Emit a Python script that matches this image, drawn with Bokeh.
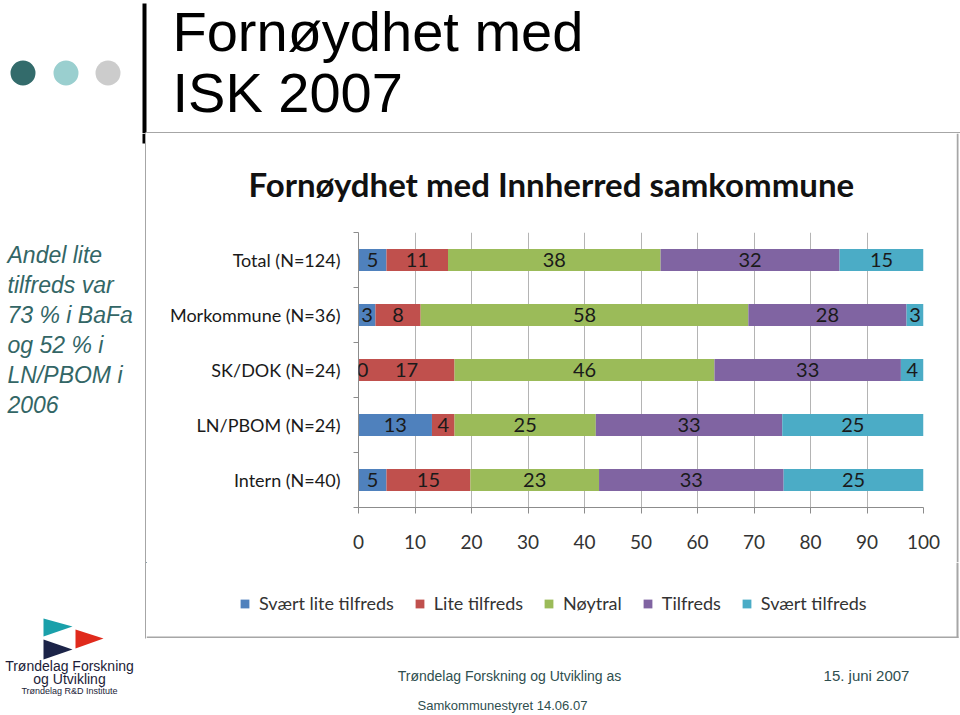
import numpy as np
from bokeh.plotting import figure
from bokeh.layouts import column, row
from bokeh.models import (ColumnDataSource, Range1d, FixedTicker, LabelSet,
                          Legend, LegendItem)
from bokeh.core.properties import value
from bokeh.embed import file_html
from bokeh.resources import INLINE

# ---------------- data ----------------
categories = ["Total (N=124)", "Morkommune (N=36)", "SK/DOK (N=24)",
              "LN/PBOM (N=24)", "Intern (N=40)"]
series_names = ["Svært lite tilfreds", "Lite tilfreds", "Nøytral",
                "Tilfreds", "Svært tilfreds"]
svaert_lite = [5, 3, 0, 13, 5]
lite = [11, 8, 17, 4, 15]
noytral = [38, 58, 46, 25, 23]
tilfreds = [32, 28, 33, 33, 33]
svaert = [15, 3, 4, 25, 25]
x_ticks = [0, 10, 20, 30, 40, 50, 60, 70, 80, 90, 100]
colors = ["#4F81BD", "#C0504D", "#9BBB59", "#8064A2", "#4BACC6"]

chart_title = "Fornøydhet med Innherred samkommune"
slide_title = ["Fornøydhet med", "ISK 2007"]
side_text = ["Andel lite", "tilfreds var", "73 % i BaFa", "og 52 % i", "LN/PBOM i", "2006"]
logo_text = ["Trøndelag Forskning", "og Utvikling", "Trøndelag R&D Institute"]
footer_text = ["Trøndelag Forskning og Utvikling as", "15. juni 2007",
               "Samkommunestyret 14.06.07"]

FONT = "Lato"
NARROW = "Liberation Sans Narrow, Liberation Sans"
BORDER = "#a6a6a6"


def blank(w, h, x0, x1, y0, y1):
    f = figure(width=w, height=h, output_backend="svg", toolbar_location=None,
               x_range=Range1d(x0, x1), y_range=Range1d(y1, y0),
               x_axis_type=None, y_axis_type=None, min_border=0,
               frame_align=False)
    f.outline_line_color = None
    f.grid.visible = False
    f.background_fill_color = "white"
    f.border_fill_color = "white"
    return f


# ---------------- top slide header (page x 0..960, y 0..133) ----------------
top = blank(960, 133, 0, 960, 0, 133)
top.circle(x=[22.5, 65.5, 107.5], y=[72.5, 72.5, 72.5], radius=12.5,
           fill_color=["#336b6b", "#9acfcf", "#cccccc"], line_color=None)
top.quad(left=[142], right=[146], top=[3], bottom=[133], fill_color="black",
         line_color=None)
top.quad(left=[145], right=[960], top=[131.5], bottom=[133], fill_color=BORDER,
         line_color=None)
top.text(x=[172, 172], y=[31, 92], text=slide_title, text_font=value("Liberation Sans"),
         text_font_size="56px", text_color="black", text_baseline="middle",
         text_align="left")

# ---------------- left column (page x 0..146, y 133..715) ----------------
left = blank(146, 582, 0, 146, 133, 715)
left.quad(left=[142], right=[146], top=[133], bottom=[143], fill_color="black",
          line_color=None)
left.quad(left=[144.5], right=[146], top=[133], bottom=[638], fill_color=BORDER,
          line_color=None)
left.text(x=[7] * len(side_text), y=[254 + 30 * i for i in range(len(side_text))],
          text=side_text, text_font=value("Liberation Sans"), text_font_style="italic",
          text_font_size="23px", text_color="#336666", text_baseline="middle",
          text_align="left")
left.patches(xs=[[43, 72, 43], [75, 103, 75], [43, 72, 43]],
             ys=[[618, 626, 636], [629, 638, 648], [639, 649, 659]],
             fill_color=["#1aa0aa", "#e02a1c", "#1c2448"], line_color=None)
left.text(x=[69, 69], y=[665, 678], text=logo_text[:2], text_font=value(NARROW),
          text_font_size="14px", text_color="#1c1c38", text_baseline="middle",
          text_align="center")
left.text(x=[69], y=[690], text=logo_text[2:], text_font=value(NARROW),
          text_font_size="9px", text_color="#1c1c38", text_baseline="middle",
          text_align="center")

# ---------------- chart (page x 146..956, y 133..562) ----------------
series = [svaert_lite, lite, noytral, tilfreds, svaert]
keys = ["s0", "s1", "s2", "s3", "s4"]
raw = np.array(series, dtype=float)
totals = raw.sum(axis=0)
share = raw / totals * 100.0                  # 100 % stacked bar

ypos = [i + 0.5 for i in range(len(categories))]
data = {"y": ypos}
for k, r in zip(keys, share):
    data[k] = list(r)
source = ColumnDataSource(data)

p = figure(width=810, height=429, output_backend="svg", toolbar_location=None,
           x_range=Range1d(0, 100), y_range=Range1d(len(categories), 0),
           min_border_left=212, min_border_right=33,
           min_border_top=99, min_border_bottom=55, frame_align=False)
p.outline_line_color = None
p.background_fill_color = "white"
p.border_fill_color = "white"

renderers = p.hbar_stack(keys, y="y", height=0.4, color=colors, source=source,
                         line_color=None)

lx, ly, lt, lo = [], [], [], []
cum = np.zeros(len(categories))
for si in range(len(series)):
    for ci in range(len(categories)):
        lx.append(cum[ci] + share[si, ci] / 2.0)
        ly.append(ypos[ci])
        lt.append(str(series[si][ci]))
        lo.append(4 if series[si][ci] == 0 else 0)
    cum += share[si]
lab_src = ColumnDataSource({"x": lx, "y": ly, "t": lt, "o": lo})
p.add_layout(LabelSet(x="x", y="y", text="t", source=lab_src, x_offset="o",
                      text_align="center", text_baseline="middle",
                      text_font=value(FONT), text_font_size="20px",
                      text_color="#1a1a1a"))

p.title.text = chart_title
p.title.align = "left"
p.title.offset = -110
p.title.standoff = 57
p.title.text_font = FONT
p.title.text_font_style = "bold"
p.title.text_font_size = "33px"
p.title.text_color = "#111111"

p.xaxis.ticker = FixedTicker(ticks=x_ticks)
p.xaxis.major_label_text_font = FONT
p.xaxis.major_label_text_font_size = "19px"
p.xaxis.major_label_text_color = "#333333"
p.xaxis.axis_line_color = "#8c8c8c"
p.xaxis.major_tick_line_color = "#8c8c8c"
p.xaxis.major_tick_out = 6
p.xaxis.major_tick_in = 0
p.xaxis.minor_tick_line_color = None
p.xaxis.major_label_standoff = 21

p.yaxis.ticker = FixedTicker(ticks=ypos, minor_ticks=list(range(len(categories) + 1)))
p.yaxis.major_label_overrides = {t: c for t, c in zip(ypos, categories)}
p.yaxis.major_label_text_font = FONT
p.yaxis.major_label_text_font_size = "18px"
p.yaxis.major_label_text_color = "#1a1a1a"
p.yaxis.axis_line_color = "#8c8c8c"
p.yaxis.major_tick_line_color = None
p.yaxis.major_tick_out = 0
p.yaxis.major_tick_in = 0
p.yaxis.minor_tick_line_color = "#8c8c8c"
p.yaxis.minor_tick_out = 5
p.yaxis.minor_tick_in = 0
p.yaxis.major_label_standoff = 13

p.xgrid.ticker = FixedTicker(ticks=x_ticks)
p.xgrid.grid_line_color = "#b4b4b4"
p.ygrid.grid_line_color = None

# right border strip next to the chart
strip = blank(4, 429, 956, 960, 133, 562)
strip.quad(left=[956], right=[958], top=[133], bottom=[562], fill_color=BORDER,
           line_color=None)

# ---------------- legend strip (page x 146..960, y 562..638) ----------------
legfig = blank(814, 76, 146, 960, 562, 638)
# legend entries come from the same stacked data (drawn outside this strip's view)
leg_renderers = legfig.hbar_stack(keys, y="y", height=0.4, color=colors, source=source,
                                  line_color=None)
items = [LegendItem(label=n, renderers=[r]) for n, r in zip(series_names, leg_renderers)]
legend = Legend(items=items, orientation="horizontal", location=(93, 24),
                padding=0, margin=0, spacing=20, label_standoff=9,
                glyph_width=11, glyph_height=11, label_height=11,
                label_text_font=FONT, label_text_font_size="18px",
                label_text_color="#333333", border_line_color=None,
                background_fill_alpha=0)
legfig.add_layout(legend)
legfig.quad(left=[146, 956], right=[958, 958], top=[636, 562], bottom=[638, 638],
            fill_color=BORDER, line_color=None)

# ---------------- footer (page x 146..960, y 638..715) ----------------
foot = blank(814, 77, 146, 960, 638, 715)
foot.text(x=[509], y=[675], text=footer_text[:1], text_font=value(NARROW),
          text_font_size="14px", text_color="#2f4f4f", text_baseline="middle",
          text_align="center")
foot.text(x=[866], y=[675], text=footer_text[1:2], text_font=value(NARROW),
          text_font_size="15px", text_color="#2f4f4f", text_baseline="middle",
          text_align="center")
foot.text(x=[502], y=[705], text=footer_text[2:], text_font=value(NARROW),
          text_font_size="13px", text_color="#2f4f4f", text_baseline="middle",
          text_align="center")

right_col = column(row(p, strip, spacing=0), legfig, foot, spacing=0)
layout = column(top, row(left, right_col, spacing=0), spacing=0)
open("out.html", "w").write(file_html(layout, INLINE))
